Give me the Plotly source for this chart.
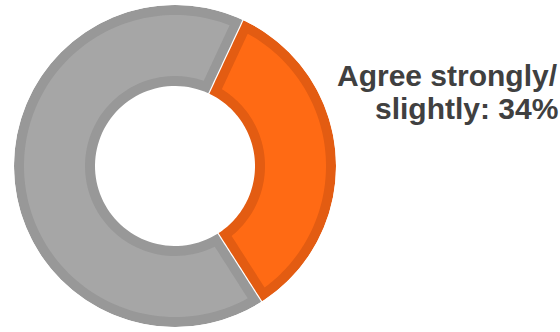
import numpy as np
import plotly.graph_objects as go

# Survey split shown as a ring chart
labels = ["Agree strongly/slightly", "Other"]
values = [34, 66]
fill_colors = ["#FF6A14", "#A6A6A6"]
edge_colors = ["#E35C12", "#989898"]
label_lines = ["Agree strongly/", "slightly"]

W, H = 560, 332
CX, CY = 175, 166          # ring centre in pixels (from top-left)
R_OUT, R_IN = 161, 80      # outer / hole radius in pixels
EDGE = 10                  # inner border thickness
GAP = 0.6                  # hairline between slices
START = 25                 # first slice starts this many degrees clockwise from 12 o'clock


def wedge(t0, t1, r0, r1, inset):
    """Closed outline of an annular sector, inset by a constant distance."""
    def off(r):
        return np.degrees(np.arcsin(np.clip(inset / np.asarray(r, float), -1, 1)))

    th, rr = [], []
    a = np.linspace(t0 + off(r1), t1 - off(r1), 120)
    th += list(a); rr += [r1] * len(a)
    rs = np.linspace(r1, r0, 30)
    th += list(t1 - off(rs)); rr += list(rs)
    a = np.linspace(t1 - off(r0), t0 + off(r0), 80)
    th += list(a); rr += [r0] * len(a)
    rs = np.linspace(r0, r1, 30)
    th += list(t0 + off(rs)); rr += list(rs)
    th.append(th[0]); rr.append(rr[0])
    return th, rr


fig = go.Figure()
total = sum(values)
t = START
for lab, v, fc, ec in zip(labels, values, fill_colors, edge_colors):
    span = 360.0 * v / total
    th, rr = wedge(t, t + span, R_IN, R_OUT, GAP)
    fig.add_trace(go.Scatterpolar(theta=th, r=rr, mode="lines", fill="toself",
                                  fillcolor=ec, line=dict(width=0), name=lab,
                                  hoverinfo="skip"))
    th, rr = wedge(t, t + span, R_IN + EDGE, R_OUT - EDGE, EDGE)
    fig.add_trace(go.Scatterpolar(theta=th, r=rr, mode="lines", fill="toself",
                                  fillcolor=fc, line=dict(width=0), name=lab,
                                  hovertemplate=f"{lab}: {v}%<extra></extra>"))
    t += span

# two-line label, each line its own annotation so the lines sit close together
text_lines = [label_lines[0], f"{label_lines[1]}: {values[0]}%"]
line_y = [75, 108]
for txt, yy in zip(text_lines, line_y):
    fig.add_annotation(text=f"<b>{txt}</b>", xref="paper", yref="paper",
                       x=559 / W, y=1 - yy / H, xanchor="right", yanchor="middle",
                       showarrow=False, borderpad=0,
                       font=dict(family="Liberation Sans, Arial", size=30, color="#404040"))

fig.update_layout(
    width=W, height=H,
    margin=dict(l=0, r=0, t=0, b=0),
    paper_bgcolor="white",
    showlegend=False,
    polar=dict(
        domain=dict(x=[(CX - R_OUT) / W, (CX + R_OUT) / W],
                    y=[(H - CY - R_OUT) / H, (H - CY + R_OUT) / H]),
        bgcolor="rgba(0,0,0,0)",
        radialaxis=dict(range=[0, R_OUT], visible=False),
        angularaxis=dict(rotation=90, direction="clockwise", visible=False),
    ),
)

fig.write_html("out.html")
